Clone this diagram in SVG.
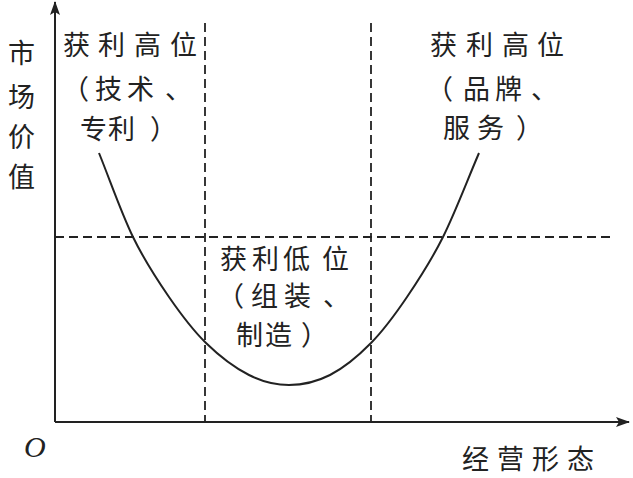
<svg xmlns="http://www.w3.org/2000/svg" width="633" height="478" viewBox="0 0 633 478">
<style>
.t{font-family:"Noto Sans CJK SC","Noto Sans CJK JP",sans-serif;font-size:27px;fill:#222}
.o{font-family:"Liberation Serif",serif;font-style:italic;font-size:30px;fill:#222}
.ax{stroke:#222;stroke-width:2;fill:none}
.dash{stroke:#222;stroke-width:1.8;stroke-dasharray:9 5;fill:none}
.curve{stroke:#222;stroke-width:2;fill:none}
</style>
<defs>
<marker id="arr" viewBox="0 0 14 10" refX="13" refY="5" markerWidth="14" markerHeight="10" markerUnits="userSpaceOnUse" orient="auto">
<path d="M0,0 L14,5 L0,10 L3,5 Z" fill="#222"/>
</marker>
</defs>
<rect width="633" height="478" fill="#fff"/>
<g id="axes">
<line class="ax" x1="55" y1="422" x2="55" y2="2" marker-end="url(#arr)"/>
<line class="ax" x1="55" y1="422" x2="629" y2="422" marker-end="url(#arr)"/>
</g>
<g id="guides">
<line class="dash" x1="205" y1="23" x2="205" y2="422"/>
<line class="dash" x1="371" y1="23" x2="371" y2="422"/>
<line class="dash" x1="55" y1="237" x2="611" y2="237"/>
</g>
<g id="connectors">
<path class="curve" d="M99,153 C110.3,181 121.3,213 133,237 C144.7,261 156.8,279.3 169,297 C181.2,314.7 192.7,330 206,343 C219.3,356 235.2,368 249,375 C262.8,382 275.5,385 289,385 C302.5,385 316.3,382 330,375 C343.7,368 358.2,356 371,343 C383.8,330 395,314.7 407,297 C419,279.3 431,261 443,237 C455,213 467,181 479,153"/>
</g>
<g id="y-label">
<text class="t" x="8" y="63">市</text>
<text class="t" x="8" y="107">场</text>
<text class="t" x="8" y="147">价</text>
<text class="t" x="8" y="187">值</text>
</g>
<g id="origin"><text class="o" x="24" y="457">O</text></g>
<g id="x-label"><text class="t" x="462 497 532 567" y="469">经营形态</text></g>
<g id="left-high">
<text class="t" x="63 98 134 170" y="55">获利高位</text>
<text class="t" x="62 95 127 165" y="99">（技术、</text>
<text class="t" x="80 108 150" y="139">专利）</text>
</g>
<g id="right-high">
<text class="t" x="430 466 502 537" y="55">获利高位</text>
<text class="t" x="426 463 495 531" y="99">（品牌、</text>
<text class="t" x="443 477 516" y="138">服务）</text>
</g>
<g id="middle-low">
<text class="t" x="220 252 283 322" y="269">获利低位</text>
<text class="t" x="217 251 284 323" y="306">（组装、</text>
<text class="t" x="236 265 301" y="345">制造）</text>
</g>
</svg>
